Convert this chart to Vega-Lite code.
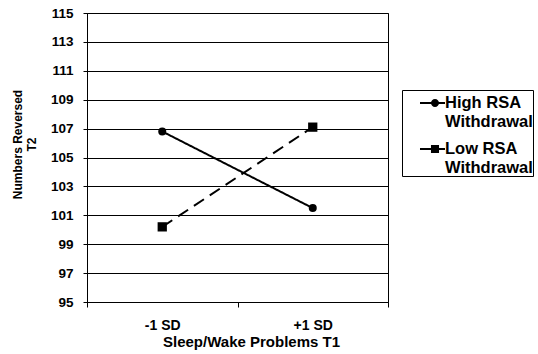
{
  "$schema": "https://vega.github.io/schema/vega-lite/v6.json",
  "width": 301,
  "height": 289,
  "autosize": {"type": "none"},
  "padding": {"left": 87, "top": 13, "right": 150, "bottom": 52},
  "background": "white",
  "config": {
    "font": "Liberation Sans",
    "view": {"stroke": "black", "strokeWidth": 1}
  },
  "data": {
    "values": [
      {"sd": "-1 SD", "series": "High RSA Withdrawal", "value": 106.8},
      {"sd": "+1 SD", "series": "High RSA Withdrawal", "value": 101.5},
      {"sd": "-1 SD", "series": "Low RSA Withdrawal", "value": 100.2},
      {"sd": "+1 SD", "series": "Low RSA Withdrawal", "value": 107.1}
    ]
  },
  "encoding": {
    "x": {
      "field": "sd",
      "type": "nominal",
      "sort": ["-1 SD", "+1 SD"],
      "scale": {"type": "band", "paddingInner": 0, "paddingOuter": 0},
      "axis": {
        "title": "Sleep/Wake Problems T1",
        "labelAngle": 0,
        "tickBand": "extent",
        "tickSize": 5,
        "tickColor": "black",
        "domainColor": "black",
        "labelColor": "black",
        "labelFontSize": 14,
        "labelFontWeight": "bold",
        "labelPadding": 11,
        "titleFontSize": 15,
        "titleFontWeight": "bold",
        "titleColor": "black",
        "titleX": 164,
        "titleY": 39,
        "titleBaseline": "middle",
        "grid": false
      }
    },
    "y": {
      "field": "value",
      "type": "quantitative",
      "scale": {"domain": [95, 115], "nice": false, "zero": false},
      "axis": {
        "title": ["Numbers Reversed", "T2"],
        "values": [95, 97, 99, 101, 103, 105, 107, 109, 111, 113, 115],
        "grid": true,
        "gridColor": "black",
        "gridWidth": 1,
        "tickSize": 4,
        "tickColor": "black",
        "domainColor": "black",
        "labelColor": "black",
        "labelFontSize": 13.5,
        "labelFontWeight": "bold",
        "labelPadding": 10,
        "titleFontSize": 12,
        "titleFontWeight": "bold",
        "titleColor": "black",
        "titleLineHeight": 14,
        "titleX": -75,
        "titleY": 131,
        "titleBaseline": "top"
      }
    }
  },
  "resolve": {"scale": {"shape": "independent"}},
  "layer": [
    {
      "mark": {"type": "line", "color": "black", "strokeWidth": 2},
      "encoding": {
        "strokeDash": {
          "field": "series",
          "type": "nominal",
          "scale": {"range": [[1, 0], [12, 7]]},
          "legend": null
        }
      }
    },
    {
      "mark": {"type": "point", "filled": true, "color": "black", "opacity": 1},
      "encoding": {
        "shape": {
          "field": "series",
          "type": "nominal",
          "scale": {"range": ["circle", "square"]},
          "legend": null
        },
        "size": {
          "field": "series",
          "type": "nominal",
          "scale": {"range": [64, 86]},
          "legend": null
        }
      }
    },
    {
      "mark": {"type": "point", "filled": true, "color": "black", "opacity": 0},
      "encoding": {
        "shape": {
          "field": "series",
          "type": "nominal",
          "scale": {"range": [
            "M-1.154,-0.077H0.769V0.077H-1.154Z M0.31,0A0.31,0.31 0 1,1 -0.31,0A0.31,0.31 0 1,1 0.31,0Z",
            "M-1.154,-0.077H0.769V0.077H-1.154Z M-0.31,-0.31H0.31V0.31H-0.31Z"
          ]},
          "legend": {
            "title": null,
            "orient": "none",
            "legendX": 315,
            "legendY": 77,
            "padding": 0,
            "strokeColor": "black",
            "fillColor": "white",
            "labelFontSize": 16.5,
            "labelFontWeight": "bold",
            "labelColor": "black",
            "labelExpr": "datum.label == 'High RSA Withdrawal' ? ['High RSA', 'Withdrawal'] : ['Low RSA', 'Withdrawal']",
            "symbolSize": 676,
            "symbolOffset": 20,
            "labelOffset": -3,
            "rowPadding": 6,
            "symbolFillColor": "black",
            "symbolStrokeColor": "black",
            "symbolStrokeWidth": 0,
            "symbolOpacity": 1,
            "encode": {
              "labels": {"update": {"lineHeight": {"value": 19}, "dy": {"value": 3}}}
            }
          }
        }
      }
    }
  ]
}
